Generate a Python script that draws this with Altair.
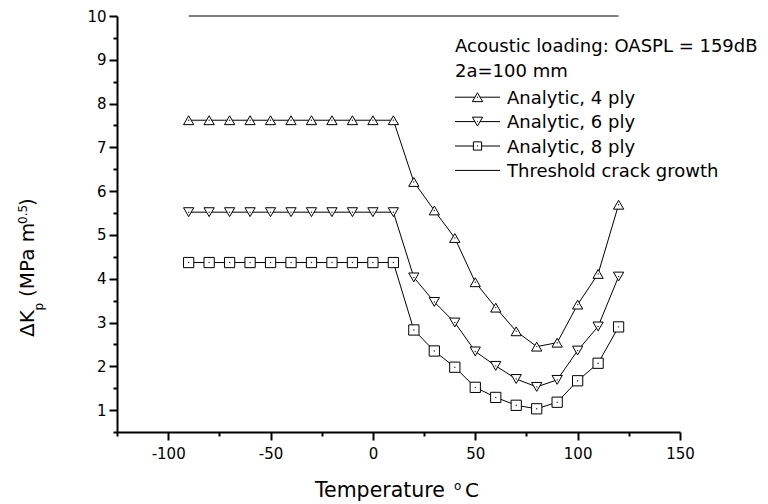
import altair as alt
import pandas as pd

# ---------------- data ----------------
temps = [-90, -80, -70, -60, -50, -40, -30, -20, -10, 0, 10,
         20, 30, 40, 50, 60, 70, 80, 90, 100, 110, 120]
ply4 = [7.62, 7.62, 7.62, 7.62, 7.62, 7.62, 7.62, 7.62, 7.62, 7.62, 7.62,
        6.21, 5.56, 4.93, 3.92, 3.34, 2.80, 2.45, 2.54, 3.41, 4.11, 5.69]
ply6 = [5.52, 5.52, 5.52, 5.52, 5.52, 5.52, 5.52, 5.52, 5.52, 5.52, 5.52,
        4.03, 3.47, 3.00, 2.34, 2.01, 1.71, 1.53, 1.69, 2.36, 2.91, 4.05]
ply8 = [4.37, 4.37, 4.37, 4.37, 4.37, 4.37, 4.37, 4.37, 4.37, 4.37, 4.37,
        2.83, 2.35, 1.98, 1.52, 1.29, 1.11, 1.03, 1.18, 1.67, 2.07, 2.90]
series_names = ["Analytic, 4 ply", "Analytic, 6 ply", "Analytic, 8 ply"]
series_shapes = ["triangle-up", "triangle-down", "square"]
series_sizes = [105, 105, 68]
threshold_x = [-90, 120]
threshold_value = [10]
threshold_label = "Threshold crack growth"
legend_title = ["Acoustic loading: OASPL = 159dB", "2a=100 mm"]
x_tick_values = [-125, -100, -75, -50, -25, 0, 25, 50, 75, 100, 125, 150]
y_tick_values = [0.5, 1, 1.5, 2, 2.5, 3, 3.5, 4, 4.5, 5, 5.5, 6, 6.5, 7, 7.5,
                 8, 8.5, 9, 9.5, 10]
x_domain = [-125, 150]
y_domain = [0.5, 10]

FONT = "DejaVu Sans"

rows = []
for name, vals in zip(series_names, [ply4, ply6, ply8]):
    for t, v in zip(temps, vals):
        rows.append({"T": t, "K": v, "series": name})
df = pd.DataFrame(rows)

thr_df = pd.DataFrame({"x0": [threshold_x[0]], "x1": [threshold_x[1]],
                       "y": threshold_value})

xscale = alt.Scale(domain=x_domain, nice=False, zero=False)
yscale = alt.Scale(domain=y_domain, nice=False, zero=False)

common_axis = dict(title=None, grid=False, domainColor="black", domainWidth=2,
                   tickColor="black", tickWidth=2, labelFont=FONT,
                   labelFontSize=15, labelColor="black", labelOverlap=False,
                   labelFlush=False)
xaxis = alt.Axis(values=x_tick_values,
                 labelExpr="datum.value % 50 === 0 ? toString(datum.value) : ''",
                 tickSize={"condition": {"test": "datum.value % 50 === 0", "value": 8},
                           "value": 4},
                 labelPadding=6, **common_axis)
yaxis = alt.Axis(values=y_tick_values,
                 labelExpr="datum.value % 1 === 0 ? toString(datum.value) : ''",
                 tickSize={"condition": {"test": "datum.value % 1 === 0", "value": 8},
                           "value": 4},
                 labelPadding=3, **common_axis)


def X(f):
    return alt.X(f, type="quantitative", scale=xscale, axis=xaxis)


def Y(f):
    return alt.Y(f, type="quantitative", scale=yscale, axis=yaxis)


line = alt.Chart(df).mark_line(color="black", strokeWidth=1).encode(
    x=X("T"), y=Y("K"), detail="series:N")

threshold = alt.Chart(thr_df).mark_rule(color="black", strokeWidth=1).encode(
    x=X("x0"), x2="x1:Q", y=Y("y"))

points = alt.Chart(df).mark_point(filled=True, fill="white", stroke="black",
                                  strokeWidth=1, opacity=1).encode(
    x=X("T"), y=Y("K"),
    shape=alt.Shape("series:N", scale=alt.Scale(domain=series_names, range=series_shapes),
                    legend=None),
    size=alt.Size("series:N", scale=alt.Scale(domain=series_names, range=series_sizes),
                  legend=None))

dots = alt.Chart(df).mark_circle(size=2, color="#222", opacity=1).encode(
    x=X("T"), y=Y("K"))

one = pd.DataFrame({"k": [0]})


def txt(text, x, y, size, angle=None):
    kw = dict(font=FONT, fontSize=size, color="black", align="left",
              baseline="alphabetic")
    if angle is not None:
        kw["angle"] = angle
    return alt.Chart(one).mark_text(**kw).encode(
        x=alt.value(x), y=alt.value(y), text=alt.value(text))


extra = []
# legend (top-right, no frame)
LEG_X0, LEG_X1, LEG_MX, LEG_TX = 338, 383, 360.5, 390
extra.append(txt(legend_title[0], 338, 35.7, 18))
extra.append(txt(legend_title[1], 338, 60.7, 18))
row_y = [81.2, 105.6, 130.0, 154.4]
labels = series_names + [threshold_label]
for i, lab in enumerate(labels):
    yy = row_y[i]
    extra.append(alt.Chart(one).mark_rule(color="black", strokeWidth=1).encode(
        x=alt.value(LEG_X0), x2=alt.value(LEG_X1), y=alt.value(yy)))
    if i < 3:
        extra.append(alt.Chart(one).mark_point(
            filled=True, fill="white", stroke="black", strokeWidth=1, opacity=1,
            shape=series_shapes[i], size=series_sizes[i]).encode(
            x=alt.value(LEG_MX), y=alt.value(yy)))
        extra.append(alt.Chart(one).mark_circle(size=2, color="#222", opacity=1).encode(
            x=alt.value(LEG_MX), y=alt.value(yy)))
    extra.append(txt(lab, LEG_TX, yy + 6.5, 18))

# y-axis title: ΔK_p (MPa m^0.5), rotated (segments stacked upward)
extra.append(txt("ΔK", -83.5, 321, 20, 270))
extra.append(txt("p", -73.7, 294.5, 12, 270))
extra.append(txt("(MPa m", -83.5, 281.0, 20, 270))
extra.append(txt("0.5", -90.3, 208.0, 12, 270))
extra.append(txt(")", -83.5, 190.0, 20, 270))

# x-axis title: Temperature °C (superscript o)
extra.append(txt("Temperature", 315 - 117, 481, 20.5))
extra.append(txt("o", 337, 474, 12))
extra.append(txt("C", 348, 481, 20))

chart = alt.layer(line, threshold, points, dots, *extra).properties(
    width=563, height=416,
    autosize=alt.AutoSizeParams(type="none"),
    padding={"left": 117, "top": 16, "right": 88, "bottom": 72},
    background="white",
).configure_view(stroke=None)

chart.save("out.html", embed_options={"renderer": "svg", "actions": False})
